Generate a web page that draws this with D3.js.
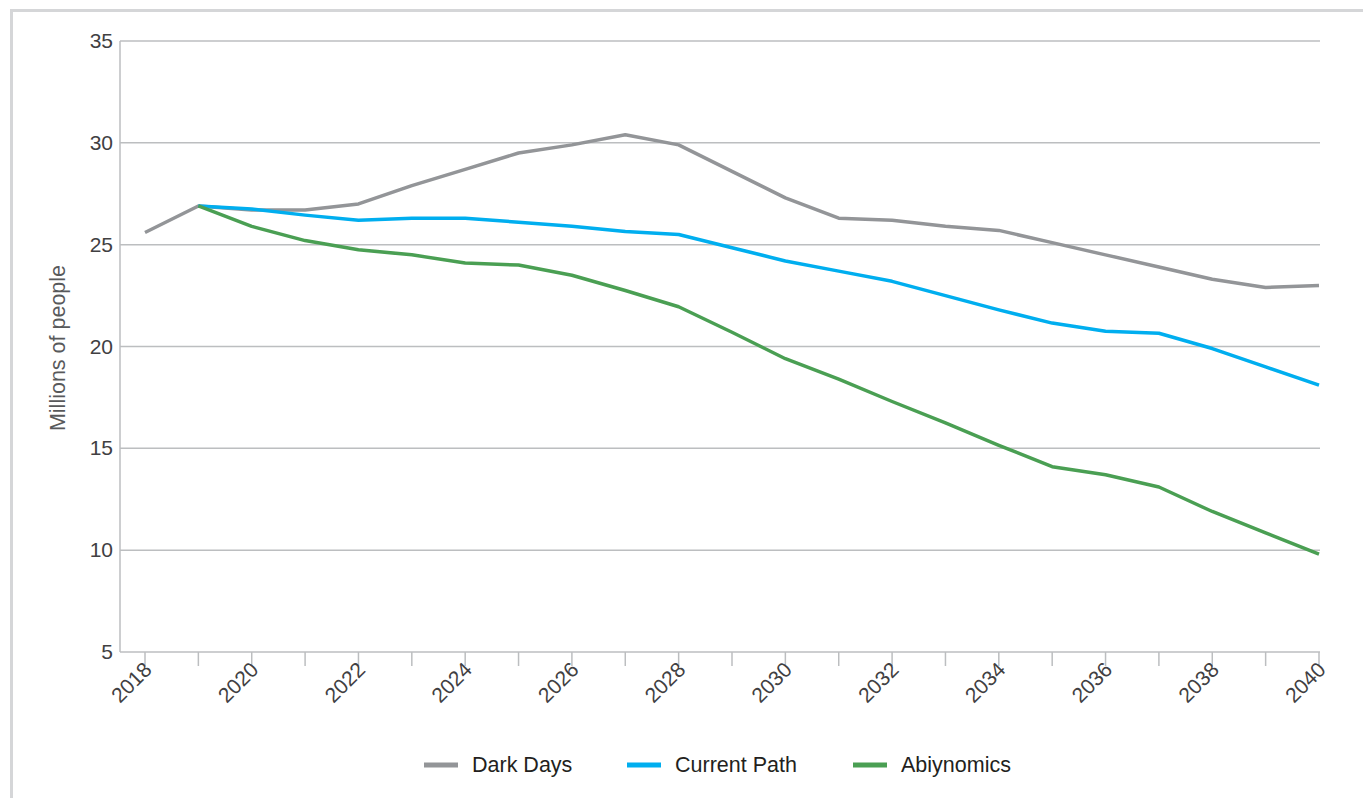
<!DOCTYPE html>
<html><head><meta charset="utf-8">
<script src="https://cdn.jsdelivr.net/npm/d3@7"></script>
<style>body{margin:0;background:#fff;}svg{display:block;font-family:"Liberation Sans",Arial,sans-serif;}</style>
</head><body>
<svg id="c" width="1363" height="798"></svg>
<script>
const years = d3.range(2018, 2041);
const darkDays = [25.6,26.9,26.7,26.7,27.0,27.9,28.7,29.5,29.9,30.4,29.9,28.6,27.3,26.3,26.2,25.9,25.7,25.1,24.5,23.9,23.3,22.9,23.0];
const currentPath = [null,26.9,26.75,26.45,26.2,26.3,26.3,26.1,25.9,25.65,25.5,24.85,24.2,23.7,23.2,22.5,21.8,21.15,20.75,20.65,19.9,19.0,18.1];
const abiynomics = [null,26.9,25.9,25.2,24.75,24.5,24.1,24.0,23.5,22.75,21.95,20.7,19.4,18.4,17.3,16.25,15.15,14.1,13.7,13.1,11.9,10.85,9.8];
const yTicks = [5,10,15,20,25,30,35];
const labelYears = d3.range(2018, 2041, 2);
const seriesNames = ["Dark Days","Current Path","Abiynomics"];
const seriesColors = ["#939598","#00aeef","#4a9f53"];
const seriesData = [darkDays, currentPath, abiynomics];

const svg = d3.select("#c");
// frame
svg.append("path").attr("d","M11.5,798 V10.5 H1363").attr("fill","none").attr("stroke","#d5d6d8").attr("stroke-width",3);

const x = d3.scaleLinear().domain([2018,2040]).range([145,1319]);
const y = d3.scaleLinear().domain([5,35]).range([652,41]);

// gridlines
svg.append("g").selectAll("line").data(yTicks.filter(t=>t>5)).join("line")
  .attr("x1",120).attr("x2",1320).attr("y1",d=>y(d)).attr("y2",d=>y(d))
  .attr("stroke","#bcbec0").attr("stroke-width",1.5);

// axis lines
svg.append("line").attr("x1",120).attr("x2",120).attr("y1",41).attr("y2",652).attr("stroke","#bcbec0").attr("stroke-width",1.5);
svg.append("line").attr("x1",120).attr("x2",1320).attr("y1",652).attr("y2",652).attr("stroke","#bcbec0").attr("stroke-width",1.5);

// y tick labels
svg.append("g").selectAll("text").data(yTicks).join("text")
  .attr("x",113).attr("y",d=>y(d)+7).attr("text-anchor","end")
  .attr("font-size",21).attr("fill","#414042").text(d=>d);

// x ticks
svg.append("g").selectAll("line").data(years).join("line")
  .attr("x1",d=>x(d)).attr("x2",d=>x(d)).attr("y1",652).attr("y2",666)
  .attr("stroke","#bcbec0").attr("stroke-width",1.5);
svg.append("g").selectAll("text").data(labelYears).join("text")
  .attr("transform",d=>`translate(${x(d)+8},${671}) rotate(-45)`)
  .attr("text-anchor","end").attr("font-size",21).attr("fill","#414042").text(d=>d);

// y label
svg.append("text").attr("transform","translate(65,348) rotate(-90)").attr("text-anchor","middle")
  .attr("font-size",21.5).attr("fill","#58595b").text("Millions of people");

// lines
const line = d3.line().defined(d=>d[1]!=null).x(d=>x(d[0])).y(d=>y(d[1]));
seriesData.forEach((s,i)=>{
  svg.append("path").datum(years.map((yr,j)=>[yr,s[j]]))
    .attr("d",line).attr("fill","none").attr("stroke",seriesColors[i])
    .attr("stroke-width",3.5).attr("stroke-linejoin","round");
});

// legend
const legX = [424,627,853];
seriesNames.forEach((n,i)=>{
  svg.append("line").attr("x1",legX[i]).attr("x2",legX[i]+34).attr("y1",765).attr("y2",765)
    .attr("stroke",seriesColors[i]).attr("stroke-width",5);
  svg.append("text").attr("x",legX[i]+48).attr("y",772).attr("font-size",21.5).attr("fill","#231f20").text(n);
});
</script>
</body></html>
